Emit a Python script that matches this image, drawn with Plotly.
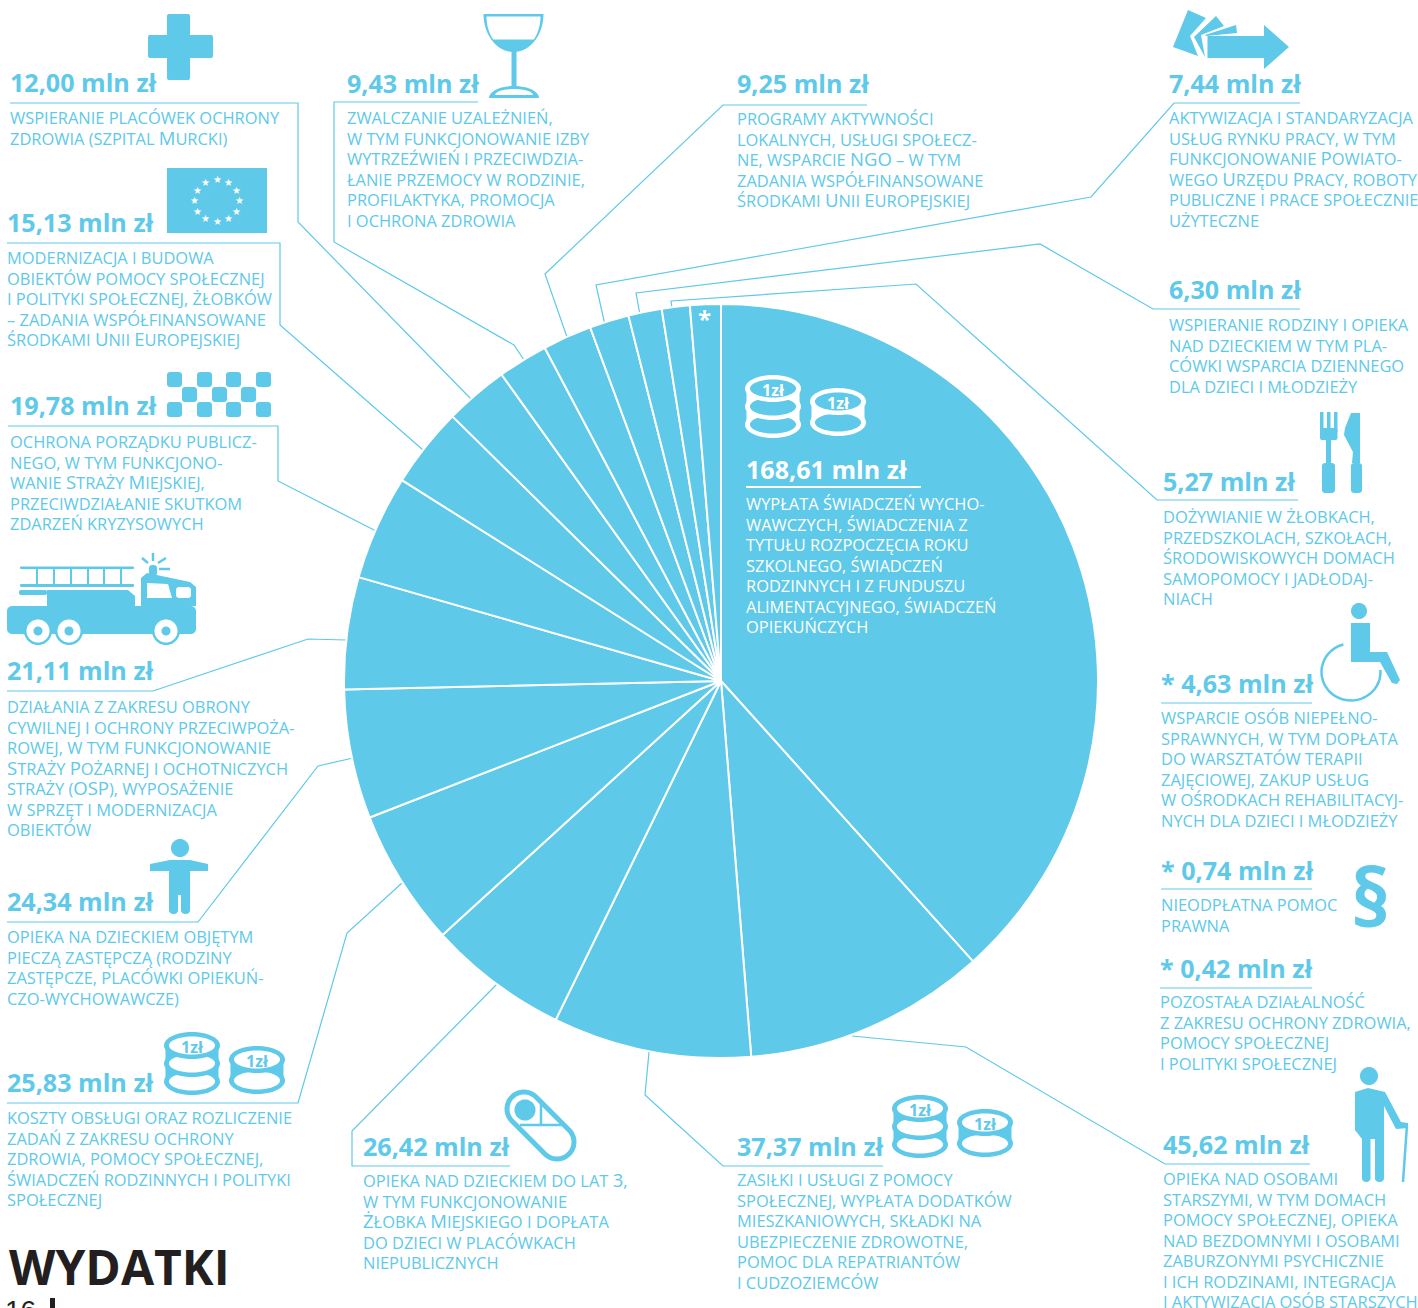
from itertools import groupby
import numpy as np
import plotly.graph_objects as go

W, H = 1418, 1308
BLUE = '#5ec9e9'
WHITE = '#ffffff'
BLACK = '#231f20'
BODY_FONT = 'Open Sans'
LINE_STEP = 20.55

## --- data ---
AMOUNTS = [168.61, 45.62, 37.37, 26.42, 25.83, 24.34, 21.11, 19.78, 15.13,
           12.00, 9.43, 9.25, 7.44, 6.30, 5.27, 4.63, 0.74, 0.42]
# the last three amounts share one slice marked with *
STARRED = 3

# lower case = small cap, upper case and digits = full size cap
DESCRIPTIONS = [
    ['wypłata świadczeń wycho-', 'wawczych, świadczenia z', 'tytułu rozpoczęcia roku', 'szkolnego, świadczeń',
     'rodzinnych i z funduszu', 'alimentacyjnego, świadczeń', 'opiekuńczych'],
    ['opieka nad osobami', 'starszymi, w tym domach', 'pomocy społecznej, opieka', 'nad bezdomnymi i osobami',
     'zaburzonymi psychicznie', 'i ich rodzinami, integracja', 'i aktywizacja osób starszych'],
    ['zasiłki i usługi z pomocy', 'społecznej, wypłata dodatków', 'mieszkaniowych, składki na',
     'ubezpieczenie zdrowotne,', 'pomoc dla repatriantów', 'i cudzoziemców'],
    ['opieka nad dzieckiem do lat 3,', 'w tym funkcjonowanie', 'Żłobka Miejskiego i dopłata',
     'do dzieci w placówkach', 'niepublicznych'],
    ['koszty obsługi oraz rozliczenie', 'zadań z zakresu ochrony', 'zdrowia, pomocy społecznej,',
     'świadczeń rodzinnych i polityki', 'społecznej'],
    ['opieka na dzieckiem objętym', 'pieczą zastępczą (rodziny', 'zastępcze, placówki opiekuń-',
     'czo-wychowawcze)'],
    ['działania z zakresu obrony', 'cywilnej i ochrony przeciwpoża-', 'rowej, w tym funkcjonowanie',
     'Straży Pożarnej i ochotniczych', 'straży (OSP), wyposażenie', 'w sprzęt i modernizacja', 'obiektów'],
    ['ochrona porządku publicz-', 'nego, w tym funkcjono-', 'wanie Straży Miejskiej,',
     'przeciwdziałanie skutkom', 'zdarzeń kryzysowych'],
    ['modernizacja i budowa', 'obiektów pomocy społecznej', 'i polityki społecznej, żłobków',
     '– zadania współfinansowane', 'środkami Unii Europejskiej'],
    ['wspieranie placówek ochrony', 'zdrowia (szpital Murcki)'],
    ['zwalczanie uzależnień,', 'w tym funkcjonowanie izby', 'wytrzeźwień i przeciwdzia-',
     'łanie przemocy w rodzinie,', 'profilaktyka, promocja', 'i ochrona zdrowia'],
    ['programy aktywności', 'lokalnych, usługi społecz-', 'ne, wsparcie NGO – w tym',
     'zadania współfinansowane', 'środkami Unii Europejskiej'],
    ['aktywizacja i standaryzacja', 'usług rynku pracy, w tym', 'funkcjonowanie Powiato-',
     'wego Urzędu Pracy, roboty', 'publiczne i prace społecznie', 'użyteczne'],
    ['wspieranie rodziny i opieka', 'nad dzieckiem w tym pla-', 'cówki wsparcia dziennego',
     'dla dzieci i młodzieży'],
    ['dożywianie w żłobkach,', 'przedszkolach, szkołach,', 'środowiskowych domach',
     'samopomocy i jadłodaj-', 'niach'],
    ['wsparcie osób niepełno-', 'sprawnych, w tym dopłata', 'do warsztatów terapii',
     'zajęciowej, zakup usług', 'w ośrodkach rehabilitacyj-', 'nych dla dzieci i młodzieży'],
    ['nieodpłatna pomoc', 'prawna'],
    ['pozostała działalność', 'z zakresu ochrony zdrowia,', 'pomocy społecznej', 'i polityki społecznej'],
]

## --- layout: (x, heading y, first text line y), same order as AMOUNTS ---
BLOCKS = [(745, 469, 503), (1162, 1144, 1178), (736, 1146, 1180), (362, 1146, 1179), (6, 1082, 1117),
          (6, 902, 937), (6, 671, 706), (9, 406, 441), (6, 222, 257), (9, 83, 118), (346, 84, 118),
          (736, 84, 118), (1168, 84, 118), (1168, 289, 325), (1162, 481, 516), (1160, 683, 718),
          (1160, 870, 905), (1159, 968, 1002)]

LEADERS = [
    [(10, 103), (298, 103), (298, 222), (471, 399)],
    [(7, 243), (280, 243), (280, 325), (423, 450)],
    [(8, 426), (278, 426), (278, 481), (376, 531)],
    [(478, 102), (334, 102), (334, 242), (514, 345), (524, 360)],
    [(867, 105), (723, 105), (545, 274), (567, 337)],
    [(1300, 103), (1174, 103), (1091, 197), (596, 285), (605, 325)],
    [(1300, 309), (1153, 309), (1040, 244), (636, 293), (640, 315)],
    [(1298, 500), (1157, 500), (916, 284), (671, 301), (672, 308)],
    [(1310, 1164), (1165, 1164), (966, 1047), (852, 1036)],
    [(883, 1166), (723, 1166), (645, 1095), (649, 1052)],
    [(510, 1166), (352, 1166), (352, 1131), (497, 984)],
    [(7, 1103), (298, 1103), (347, 933), (402, 883)],
    [(7, 922), (198, 922), (318, 766), (353, 758)],
    [(7, 691), (153, 691), (308, 639), (346, 640)],
    [(1161, 703), (1312, 703)],
    [(1161, 889), (1312, 889)],
    [(1160, 988), (1312, 988)],
]


def px(x):
    return x / W


def py(y):
    return 1 - y / H


def small_caps(line):
    out = ''
    for big, run in groupby(line, key=lambda c: c.isupper() or c.isdigit()):
        run = ''.join(run)
        if big:
            out += f'<span style="font-size:18.5px">{run}</span>'
        else:
            out += f'<span style="font-size:16.45px">{run.upper()}</span>'
    return out


def path(points, close=True):
    d = 'M' + ' L'.join(f'{px(x):.5f},{py(y):.5f}' for x, y in points)
    return d + (' Z' if close else '')


fig = go.Figure()
shapes = []
notes = []


def poly(points, color=BLUE):
    shapes.append(dict(type='path', path=path(points), fillcolor=color, line_width=0))


def stroke(points, color=BLUE, width=1.2, layer='above'):
    shapes.append(dict(type='path', path=path(points, close=False), line=dict(color=color, width=width),
                       layer=layer))


def rect(x0, y0, x1, y1, color=BLUE, r=0):
    pts = []
    if r:
        for cx, cy, a in [(x1 - r, y0 + r, -90), (x1 - r, y1 - r, 0), (x0 + r, y1 - r, 90), (x0 + r, y0 + r, 180)]:
            t = np.radians(np.linspace(a, a + 90, 6))
            pts += list(zip(cx + r * np.cos(t), cy + r * np.sin(t)))
    else:
        pts = [(x0, y0), (x1, y0), (x1, y1), (x0, y1)]
    poly(pts, color)


def oval(cx, cy, rx, ry, color=BLUE):
    t = np.linspace(0, 2 * np.pi, 49)[:-1]
    poly(list(zip(cx + rx * np.cos(t), cy + ry * np.sin(t))), color)


def note(x, y, text, size, color=BLUE, family=BODY_FONT, anchor='left'):
    notes.append(dict(x=px(x), y=py(y), xref='paper', yref='paper', text=text, showarrow=False,
                      xanchor=anchor, yanchor='middle', align='left', borderpad=0,
                      font=dict(family=family, size=size, color=color)))


def coins(x0, y0, count, color, back):
    # stack of coins, top one carries the 1zł text
    rx, ry = 28, 13.5
    step = 18 if count == 3 else 21
    cx = x0 + rx
    for i in range(count - 1, -1, -1):
        cy = y0 + ry + i * step
        if i:
            rect(cx - rx + 1.5, cy - step, cx + rx - 1.5, cy, color)
        oval(cx, cy, rx, ry, color)
        oval(cx, cy, rx - 5, ry - 4.5, back)
    note(cx, y0 + ry + 1, '<b>1zł</b>', 16, color, anchor='center')


def icons():
    # cross
    rect(167, 14, 190, 80, r=2)
    rect(148, 35, 213, 58, r=2)
    # glass
    t = np.radians(np.linspace(0, 180, 31))
    poly(list(zip(513.5 + 30 * np.cos(t), 14 + 38 * np.sin(t))))
    t = np.radians(np.linspace(0, 41, 10))
    right = list(zip(513.5 + 27 * np.cos(t), 16.5 + 35 * np.sin(t)))
    poly(right + [(2 * 513.5 - x, y) for x, y in right[::-1]], WHITE)
    rect(511.5, 50, 516.5, 92)
    t = np.radians(np.linspace(180, 360, 25))
    poly(list(zip(514 + 25 * np.cos(t), 98 + 12 * np.sin(t))))
    poly(list(zip(514 + 19 * np.cos(t), 95 + 6 * np.sin(t))), WHITE)
    # flag
    rect(167, 168, 267, 233)
    for a in range(0, 360, 30):
        note(217 + 23 * np.cos(np.radians(a)), 200.5 + 21 * np.sin(np.radians(a)), '★', 10, WHITE,
             'DejaVu Sans', 'center')
    # checker board
    for x0 in (167, 197, 226, 256):
        rect(x0, 372, x0 + 15, 387, r=3)
        rect(x0, 402, x0 + 15, 417, r=3)
    for x0 in (182, 212, 241):
        rect(x0, 387, x0 + 15, 402, r=3)
    # fire truck
    rect(7, 606, 196, 634, r=5)
    poly([(47, 606), (47, 590), (128, 590), (135, 596), (135, 606)])
    rect(19, 590, 47, 595, r=2)
    poly([(141, 606), (141, 578), (147, 573), (190, 582), (196, 587), (196, 606)])
    poly([(147, 583), (168, 584), (172, 598), (147, 598)], WHITE)
    rect(176, 587, 191, 598, WHITE, r=3)
    rect(20, 566.5, 134, 569, r=1)
    rect(20, 584, 134, 587, r=1)
    for x0 in (36, 53, 70, 87, 103, 120):
        rect(x0, 569, x0 + 2, 584)
    rect(149, 565, 157, 576, r=3)
    for ray in ([(153, 553), (153, 561)], [(142, 558), (148, 563)], [(166, 558), (158, 563)], [(159, 569), (170, 569)]):
        stroke(ray, width=2.5)
    for cx in (38, 69, 166):
        oval(cx, 631, 14, 14)
        oval(cx, 631, 11.5, 11.5, WHITE)
        oval(cx, 631, 4.5, 4.5)
    # child
    oval(180, 848, 9, 9)
    poly([(150, 864), (170, 860), (190, 860), (208, 864), (208, 871), (190, 871), (190, 895), (169, 895), (169, 871), (150, 871)])
    rect(169, 885, 178, 914, r=4)
    rect(181, 885, 190, 914, r=4)
    # coins
    coins(164, 1032, 3, BLUE, WHITE)
    coins(229, 1046, 2, BLUE, WHITE)
    coins(892, 1095, 3, BLUE, WHITE)
    coins(957, 1109, 2, BLUE, WHITE)
    coins(745, 375, 3, WHITE, BLUE)
    coins(810, 388, 2, WHITE, BLUE)
    # pill
    for r, color in ((19.5, BLUE), (14.5, WHITE)):
        t0 = np.radians(np.linspace(135, 315, 20))
        t1 = np.radians(np.linspace(-45, 135, 20))
        pts = list(zip(524 + r * np.cos(t0), 1109 + r * np.sin(t0))) + list(zip(557 + r * np.cos(t1), 1142 + r * np.sin(t1)))
        poly(pts, color)
    oval(525, 1110, 10.5, 10.5)
    stroke([(520, 1125), (564, 1125)], width=2.5)
    stroke([(541, 1104), (541, 1125)], width=2.5)
    # old person
    oval(1369, 1076, 9, 9)
    poly([(1355, 1092), (1368, 1088), (1385, 1092), (1401, 1122), (1408, 1123), (1408, 1128), (1396, 1129),
          (1384, 1106), (1384, 1139), (1362, 1139), (1355, 1130)])
    rect(1362, 1130, 1370.5, 1182, r=4)
    rect(1375, 1130, 1384, 1182, r=4)
    stroke([(1407, 1125), (1403, 1182)], width=2.5)
    # cards and arrow
    poly([(1207.5, 36), (1264, 36), (1264, 25), (1289, 47), (1264, 69), (1264, 58), (1207.5, 58)])
    poly([(1173, 47), (1188, 10), (1206, 18), (1190, 36), (1198, 56)])
    poly([(1194, 37), (1216, 16), (1224, 26), (1201, 35), (1205, 57)])
    poly([(1205, 35), (1236, 25), (1237, 33), (1206, 36)])
    # fork and knife
    for x0 in (1320, 1327, 1334):
        rect(x0, 412, x0 + 3.5, 432)
    rect(1320, 428, 1337.5, 440, r=2)
    rect(1326, 438, 1331, 466)
    rect(1322, 463, 1335, 493, r=3)
    poly([(1351, 413), (1360, 413), (1360, 463), (1352, 463), (1353, 452), (1344, 435), (1345, 428)])
    rect(1351, 463, 1362, 493, r=3)
    # wheelchair
    oval(1359, 611, 8, 8)
    poly([(1351, 623), (1370, 623), (1370, 652), (1387, 652), (1400, 680), (1397, 684), (1392, 683), (1380, 662), (1351, 662)])
    t = np.radians(np.linspace(105, 364, 40))
    stroke(list(zip(1351 + 29.5 * np.cos(t), 672 - 28.5 * np.sin(t))), width=2.5)
    # paragraph sign
    note(1370, 894, '<b>§</b>', 80, BLUE, 'Open Sans', 'center')


fig.add_trace(go.Pie(
    values=AMOUNTS[:-STARRED] + [round(sum(AMOUNTS[-STARRED:]), 2)],
    labels=[d[0].upper() for d in DESCRIPTIONS[:-STARRED]] + ['*'],
    sort=False,
    direction='clockwise',
    rotation=0,
    textinfo='none',
    showlegend=False,
    marker=dict(colors=[BLUE] * (len(AMOUNTS) - STARRED + 1), line=dict(color=WHITE, width=2)),
    domain=dict(x=[344 / W, 1098 / W], y=[1 - 1058 / H, 1 - 304 / H]),
))

for leader in LEADERS:
    stroke(leader, layer='below')
stroke([(746, 487), (921, 487)], WHITE, 2)

for i, (amount, lines, (x, head_y, text_y)) in enumerate(zip(AMOUNTS, DESCRIPTIONS, BLOCKS)):
    color = WHITE if i == 0 else BLUE
    label = f'{amount:.2f}'.replace('.', ',') + ' mln zł'
    if i >= len(AMOUNTS) - STARRED:
        label = '* ' + label
    note(x, head_y - 0.5, f'<b>{label}</b>', 25.1, color)
    # base size sets the line step (1.3em), the spans set the glyph size
    block = '<br>'.join(small_caps(line) for line in lines)
    note(x, text_y + (len(lines) - 1) / 2 * LINE_STEP, block, LINE_STEP / 1.3, color)

note(704, 318, '<b>*</b>', 24, WHITE, anchor='center')
note(8, 1266, '<b>WYDATKI</b>', 48, BLACK, 'Open Sans')
note(4, 1310, '16', 28, BLACK, 'Liberation Sans')
rect(50, 1298, 55, 1308, BLACK)
icons()

fig.update_layout(
    width=W, height=H,
    margin=dict(l=0, r=0, t=0, b=0),
    paper_bgcolor=WHITE,
    shapes=shapes,
    annotations=notes,
)

# page default body margin would shift the whole figure
fig.write_html("out.html", config=dict(displayModeBar=False), post_script="document.body.style.margin = '0';")
